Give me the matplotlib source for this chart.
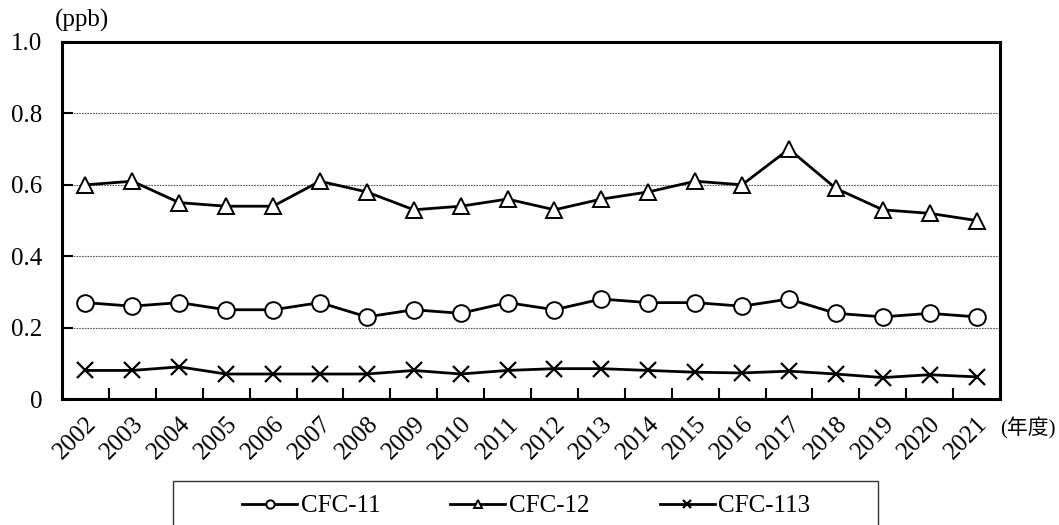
import numpy as np
import matplotlib.pyplot as plt
from matplotlib.patches import Rectangle
from matplotlib.transforms import ScaledTranslation

plt.switch_backend('Agg')
plt.rcParams['font.family'] = ['Liberation Serif', 'Noto Sans CJK JP']

years = [str(y) for y in range(2002, 2022)]
cfc11 = [0.27, 0.26, 0.27, 0.25, 0.25, 0.27, 0.23, 0.25, 0.24, 0.27,
         0.25, 0.28, 0.27, 0.27, 0.26, 0.28, 0.24, 0.23, 0.24, 0.23]
cfc12 = [0.60, 0.61, 0.55, 0.54, 0.54, 0.61, 0.58, 0.53, 0.54, 0.56,
         0.53, 0.56, 0.58, 0.61, 0.60, 0.70, 0.59, 0.53, 0.52, 0.50]
cfc113 = [0.080, 0.080, 0.090, 0.070, 0.070, 0.070, 0.070, 0.080, 0.070, 0.080,
          0.085, 0.085, 0.080, 0.075, 0.073, 0.078, 0.070, 0.060, 0.068, 0.062]
y_ticks = [0.0, 0.2, 0.4, 0.6, 0.8, 1.0]
y_labels = ['0', '0.2', '0.4', '0.6', '0.8', '1.0']

W, H = 1059, 525
fig = plt.figure(figsize=(W / 100, H / 100), dpi=100)
ax = fig.add_axes([62 / W, 1 - 399 / H, 938 / W, 357 / H])

x = np.arange(len(years))
style = dict(color='black', linewidth=2.0, markersize=12,
             markerfacecolor='white', markeredgecolor='black', markeredgewidth=1.4)
ax.plot(x, cfc11, marker='o', label='CFC-11', **style)
ax.plot(x, cfc12, marker='^', label='CFC-12', **style)
ax.plot(x, cfc113, marker='x', label='CFC-113', color='black', linewidth=2.0,
        markersize=12, markeredgewidth=1.6)

ax.set_xlim(-0.5, len(years) - 0.5)
ax.set_ylim(0, 1.0)
ax.set_yticks(y_ticks)
ax.set_yticklabels(y_labels, fontsize=18)
ax.yaxis.grid(True, linestyle=(0, (1.5, 1)), color='#555555', linewidth=0.8)
ax.set_axisbelow(True)

# category boundaries as ticks, labels under the points
ax.set_xticks(np.arange(-0.5, len(years), 1.0))
ax.set_xticklabels([])
ax.set_xticks(x, minor=True)
ax.set_xticklabels(years, minor=True, rotation=45, ha='right', va='top',
                   rotation_mode='anchor', fontsize=18)
shift = ScaledTranslation(6 / 100, 0, fig.dpi_scale_trans)
for lab in ax.get_xticklabels(minor=True):
    lab.set_transform(lab.get_transform() + shift)
ax.tick_params(axis='x', which='major', direction='in', length=8, width=1.5)
ax.tick_params(axis='x', which='minor', length=0, pad=10)
ax.tick_params(axis='y', direction='in', length=8, width=1.5, pad=14)
for s in ax.spines.values():
    s.set_linewidth(2.2)

fig.text(55 / W, 1 - 20 / H, '(ppb)', fontsize=18, va='center', ha='left')
fig.text(1000 / W, 1 - 428 / H, '(年度)', fontsize=15, va='center', ha='left')

# legend box (runs off the bottom edge like the original)
fig.patches.append(Rectangle((173 / W, -0.1), (878 - 173) / W, 0.1 + 1 - 481 / H,
                             transform=fig.transFigure, fill=False,
                             edgecolor='#333333', linewidth=1.0))
handles, labels = ax.get_legend_handles_labels()
fig.legend(handles, labels, loc='center left', bbox_to_anchor=(242 / W, 1 - 506 / H),
           ncol=3, fontsize=18, markerscale=0.5, handlelength=2.2, handletextpad=0.15,
           columnspacing=2.8, frameon=False, borderpad=0, borderaxespad=0)

fig.savefig('out.png', dpi=100)
plt.close(fig)
